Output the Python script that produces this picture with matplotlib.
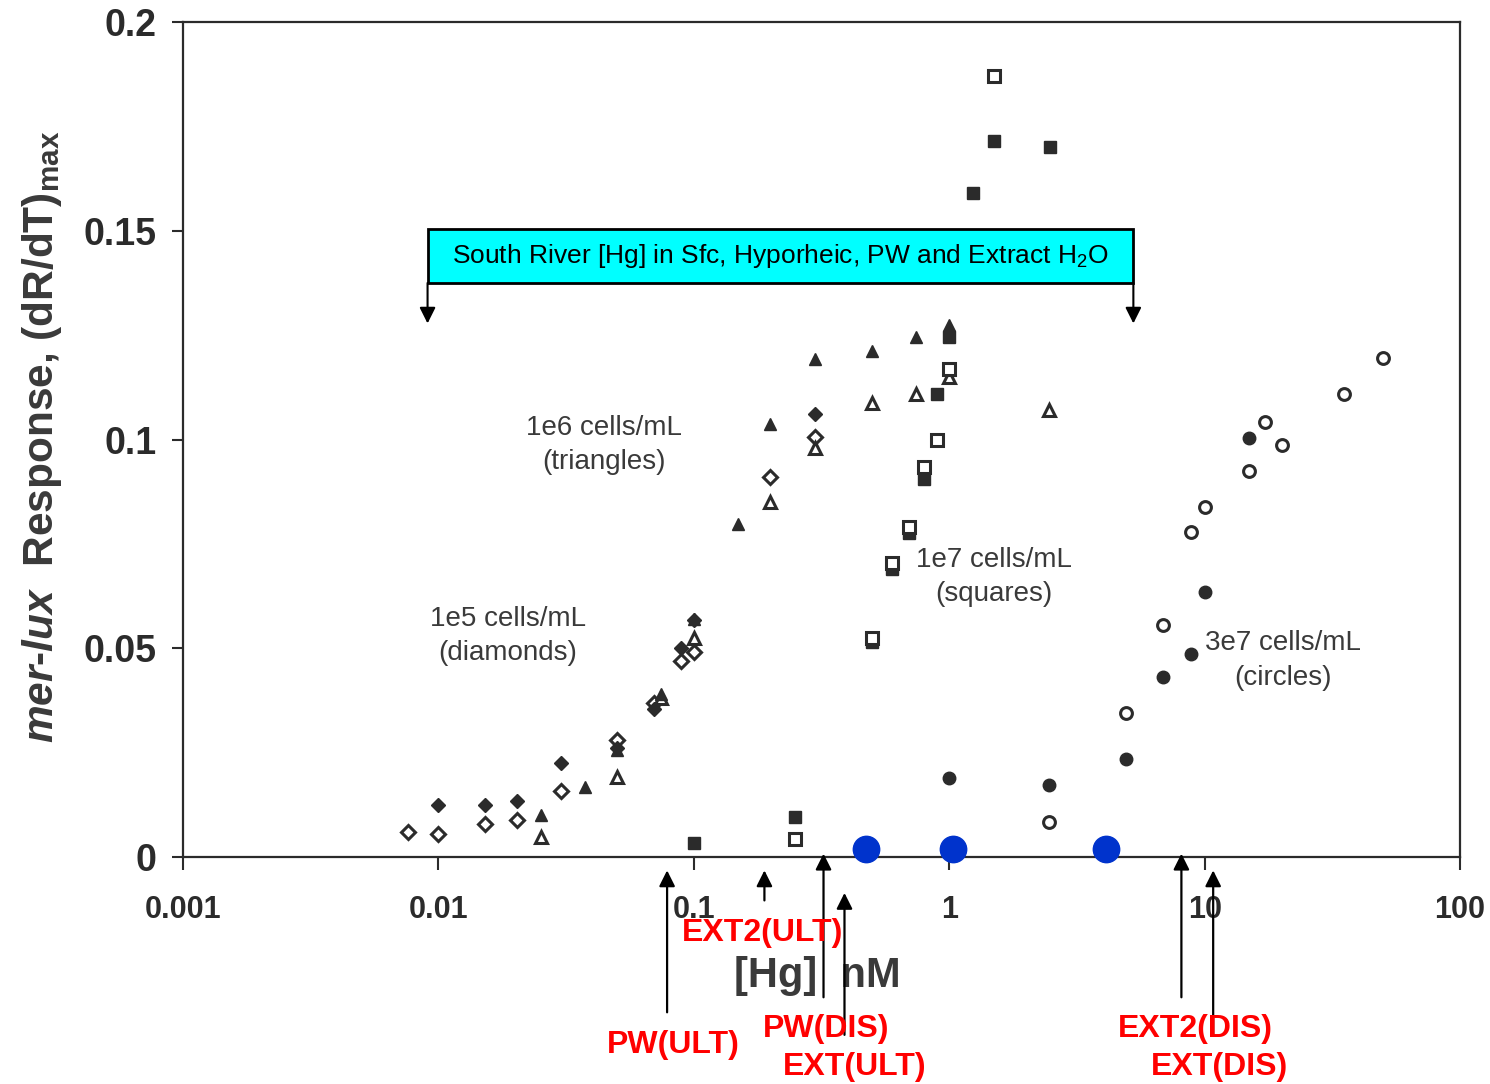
import matplotlib
matplotlib.use("Agg")
import matplotlib.pyplot as plt
import numpy as np
from matplotlib.patches import Rectangle
from matplotlib.transforms import blended_transform_factory

plt.rcParams["font.family"] = ["Liberation Sans", "DejaVu Sans"]
plt.rcParams["mathtext.fontset"] = "custom"
plt.rcParams["mathtext.rm"] = "Liberation Sans:bold"
plt.rcParams["mathtext.it"] = "Liberation Sans:italic:bold"
plt.rcParams["mathtext.sf"] = "Liberation Sans"

INK = "#2b2b2b"

# 1e5 cells/mL (diamonds)
dia_open_x = [0.00757, 0.0100, 0.0152, 0.0203, 0.0302, 0.050, 0.070, 0.0893, 0.100, 0.198, 0.297]
dia_open_y = [0.0060, 0.0055, 0.0079, 0.0089, 0.0158, 0.0280, 0.0369, 0.0470, 0.0490, 0.0910, 0.1006]
dia_fill_x = [0.0100, 0.0152, 0.0203, 0.0302, 0.050, 0.070, 0.0893, 0.100, 0.297]
dia_fill_y = [0.0125, 0.0125, 0.0134, 0.0225, 0.0262, 0.0355, 0.0500, 0.0568, 0.1060]

# 1e6 cells/mL (triangles)
tri_fill_x = [0.0252, 0.0375, 0.050, 0.0745, 0.100, 0.149, 0.198, 0.297, 0.497, 0.739, 1.00]
tri_fill_y = [0.0101, 0.0168, 0.0256, 0.0390, 0.0570, 0.0797, 0.1037, 0.1193, 0.1212, 0.1245, 0.1275]
tri_open_x = [0.0252, 0.050, 0.0745, 0.100, 0.198, 0.297, 0.497, 0.739, 1.00, 2.46]
tri_open_y = [0.0048, 0.0192, 0.0380, 0.0525, 0.0850, 0.0980, 0.1087, 0.1110, 0.1150, 0.1070]

# 1e7 cells/mL (squares)
sq_fill_x = [0.100, 0.248, 0.497, 0.595, 0.694, 0.795, 0.894, 1.00, 1.239, 1.496, 2.48]
sq_fill_y = [0.0034, 0.0096, 0.0515, 0.0690, 0.0776, 0.0905, 0.1110, 0.1245, 0.1590, 0.1715, 0.1700]
sq_open_x = [0.248, 0.497, 0.595, 0.694, 0.795, 0.894, 1.00, 1.496]
sq_open_y = [0.0043, 0.0525, 0.0705, 0.0790, 0.0935, 0.1000, 0.1170, 0.1870]

# 3e7 cells/mL (circles)
circ_fill_x = [1.00, 2.46, 4.93, 6.89, 8.88, 10.0, 14.9]
circ_fill_y = [0.0190, 0.0172, 0.0235, 0.0430, 0.0486, 0.0635, 0.1003]
circ_open_x = [2.46, 4.93, 6.89, 8.88, 10.0, 14.9, 17.3, 20.0, 35.1, 49.9]
circ_open_y = [0.0084, 0.0345, 0.0556, 0.0778, 0.0838, 0.0924, 0.1042, 0.0987, 0.1110, 0.1195]

# South River sample concentrations marked on the axis
river_x = [0.471, 1.033, 4.12]
river_y = [0.0019, 0.0019, 0.0019]

# range of South River [Hg]
range_lo, range_hi = 0.00907, 5.26

# sample-type arrows below the axis: label, Hg (nM), arrow tip, arrow tail, label position (axes fraction)
site_labels = ["PW(ULT)", "EXT2(ULT)", "PW(DIS)", "EXT(ULT)", "EXT2(DIS)", "EXT(DIS)"]
site_hg = [0.0786, 0.189, 0.322, 0.389, 8.11, 10.8]
site_tip = [-0.016, -0.016, 0.004, -0.043, 0.004, -0.016]
site_tail = [-0.186, -0.052, -0.168, -0.213, -0.168, -0.213]
site_text_x = [0.0830, 0.186, 0.331, 0.426, 9.20, 11.4]
site_text_y = [-0.2255, -0.0905, -0.2065, -0.2515, -0.2065, -0.2515]

x_ticks = [0.001, 0.01, 0.1, 1, 10, 100]
x_ticklabels = ["0.001", "0.01", "0.1", "1", "10", "100"]
y_ticks = [0, 0.05, 0.1, 0.15, 0.2]
y_ticklabels = ["0", "0.05", "0.1", "0.15", "0.2"]

fig = plt.figure(figsize=(14.9, 10.84), dpi=100)
ax = fig.add_axes([0.1228, 0.2094, 0.8571, 0.7703])
ax.set_xscale("log")
ax.set_xlim(0.001, 100)
ax.set_ylim(0, 0.2)

mk = dict(linestyle="none", color=INK, markeredgecolor=INK)
ax.plot(dia_open_x, dia_open_y, marker="D", ms=7.5, mfc="white", mew=2.2, **mk)
ax.plot(dia_fill_x, dia_fill_y, marker="D", ms=7.5, mfc=INK, mew=1.0, **mk)
ax.plot(tri_open_x, tri_open_y, marker="^", ms=9, mfc="white", mew=2.2, **mk)
ax.plot(tri_fill_x, tri_fill_y, marker="^", ms=9, mfc=INK, mew=1.0, **mk)
ax.plot(sq_fill_x, sq_fill_y, marker="s", ms=9, mfc=INK, mew=1.0, **mk)
ax.plot(sq_open_x, sq_open_y, marker="s", ms=8.5, mfc="white", mew=2.2, **mk)
ax.plot(circ_fill_x, circ_fill_y, marker="o", ms=9, mfc=INK, mew=1.0, **mk)
ax.plot(circ_open_x, circ_open_y, marker="o", ms=8.5, mfc="white", mew=2.2, **mk)
ax.plot(river_x, river_y, marker="o", ms=19, linestyle="none", color="#0033cc",
        clip_on=False, zorder=5)

# group labels
lab = dict(fontsize=20, color="#3a3a3a", ha="center", va="center", linespacing=1.43)
ax.text(0.0445, 0.0987, "1e6 cells/mL\n(triangles)", **lab)
ax.text(0.0187, 0.0529, "1e5 cells/mL\n(diamonds)", **lab)
ax.text(1.496, 0.0671, "1e7 cells/mL\n(squares)", **lab)
ax.text(20.2, 0.0470, "3e7 cells/mL\n(circles)", **lab)

# cyan range box with arrows down to its ends
box_bottom, box_top, arrow_end = 0.1375, 0.1504, 0.1278
ax.add_patch(Rectangle((range_lo, box_bottom), range_hi - range_lo, box_top - box_bottom,
                       facecolor="#00ffff", edgecolor="black", lw=2, zorder=6))
ax.text(np.sqrt(range_lo * range_hi), (box_bottom + box_top) / 2,
        r"South River [Hg] in Sfc, Hyporheic, PW and Extract H$_{\mathsf{2}}$O",
        fontsize=19, ha="center", va="center", color="black", zorder=7)
for xe in (range_lo, range_hi):
    ax.annotate("", xy=(xe, arrow_end), xytext=(xe, box_bottom),
                arrowprops=dict(arrowstyle="-|>", color="black", lw=1.5, mutation_scale=24,
                                shrinkA=0, shrinkB=0), zorder=7)

# sample-type arrows and labels under the axis
trans = blended_transform_factory(ax.transData, ax.transAxes)
for name, xv, tip, tail, tx, ty in zip(site_labels, site_hg, site_tip, site_tail,
                                       site_text_x, site_text_y):
    ax.annotate("", xy=(xv, tip), xytext=(xv, tail), xycoords=trans, textcoords=trans,
                arrowprops=dict(arrowstyle="-|>", color="black", lw=1.6, mutation_scale=24,
                                shrinkA=0, shrinkB=0), annotation_clip=False)
    ax.text(tx, ty, name, transform=trans, fontsize=23, fontweight="bold", color="#ff0000",
            ha="center", va="center", clip_on=False, zorder=8)

ax.set_xticks(x_ticks)
ax.set_xticklabels(x_ticklabels)
ax.set_yticks(y_ticks)
ax.set_yticklabels(y_ticklabels)
ax.minorticks_off()
ax.tick_params(axis="x", direction="out", length=9, width=1.5, color=INK, pad=18,
               labelsize=22, labelcolor=INK)
ax.tick_params(axis="y", direction="out", length=8, width=1.5, color=INK, pad=11,
               labelsize=27, labelcolor=INK)
for t in ax.get_xticklabels() + ax.get_yticklabels():
    t.set_fontweight("bold")
for s in ax.spines.values():
    s.set_color(INK)
    s.set_linewidth(1.6)

ax.set_xlabel("[Hg]  nM", fontsize=30, fontweight="bold", color="#3a3a3a")
ax.xaxis.set_label_coords(0.497, -0.119)
ax.set_ylabel(r"$mer$-$lux$  Response, (dR/dT)$_{\rm max}$", fontsize=30.5,
              fontweight="bold", color="#3a3a3a")
ax.yaxis.set_label_coords(-0.093, 0.503)

fig.savefig("out.png", dpi=100)
